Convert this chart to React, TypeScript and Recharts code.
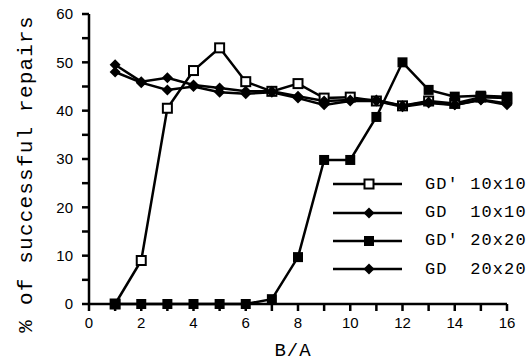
import { Line, LineChart, XAxis, YAxis } from 'recharts';

const ratios = [1, 2, 3, 4, 5, 6, 7, 8, 9, 10, 11, 12, 13, 14, 15, 16];
const gdPrime10 = [0, 9, 40.5, 48.3, 53, 46, 44, 45.6, 42.6, 42.8, 42, 41, 42, 41.5, 42.8, 42.6];
const gd10 = [49.5, 46, 46.8, 45.3, 44.7, 44, 44, 43, 42, 42.2, 42.2, 41, 41.8, 41.2, 42.3, 41.5];
const gdPrime20 = [0, 0, 0, 0, 0, 0, 1, 9.7, 29.8, 29.8, 38.7, 50, 44.3, 42.9, 43.1, 42.9];
const gd20 = [48, 45.8, 44.3, 45, 43.8, 43.5, 43.8, 42.6, 41.2, 42, 42, 40.8, 41.6, 41.2, 42.2, 41.2];

const xTicks = [0, 1, 2, 3, 4, 5, 6, 7, 8, 9, 10, 11, 12, 13, 14, 15, 16];
const yTicks = [0, 5, 10, 15, 20, 25, 30, 35, 40, 45, 50, 55, 60];

const series = [
  { key: 'gdp10', name: "GD' 10x10", shape: 'open' },
  { key: 'gd10', name: 'GD  10x10', shape: 'diamond' },
  { key: 'gdp20', name: "GD' 20x20", shape: 'square' },
  { key: 'gd20', name: 'GD  20x20', shape: 'diamond' },
];

const data = ratios.map((x, i) => ({
  x,
  gdp10: gdPrime10[i],
  gd10: gd10[i],
  gdp20: gdPrime20[i],
  gd20: gd20[i],
}));

const mono = '"Liberation Mono", "DejaVu Sans Mono", monospace';
const sans = '"Liberation Sans", Arial, sans-serif';

function Marker({ cx, cy, shape }: { cx: number; cy: number; shape: string }) {
  if (cx == null || cy == null) return null;
  if (shape === 'open')
    return <rect x={cx - 4.5} y={cy - 4.5} width={9} height={9} fill="#fff" stroke="#000" strokeWidth={2} />;
  if (shape === 'square')
    return <rect x={cx - 5} y={cy - 5} width={10} height={10} fill="#000" />;
  return (
    <polygon
      points={`${cx},${cy - 5.5} ${cx + 5.5},${cy} ${cx},${cy + 5.5} ${cx - 5.5},${cy}`}
      fill="#000"
    />
  );
}

function LegendBox() {
  return (
    <div style={{ position: 'absolute', left: 333, top: 170, width: 200 }}>
      {series.map((s) => (
        <div key={s.key} style={{ display: 'flex', alignItems: 'center', height: 28.4 }}>
          <svg width={92} height={16} style={{ flex: 'none' }}>
            <line x1={0} y1={8} x2={69} y2={8} stroke="#000" strokeWidth={2.5} />
            <Marker cx={36} cy={8} shape={s.shape} />
          </svg>
          <span style={{ fontFamily: mono, fontSize: 17, letterSpacing: 1.1, whiteSpace: 'pre', color: '#000' }}>
            {s.name}
          </span>
        </div>
      ))}
    </div>
  );
}

export default function App() {
  return (
    <div style={{ position: 'absolute', left: 0, top: 0, width: 531, height: 363, background: '#fff' }}>
      <LineChart width={531} height={363} data={data} margin={{ top: 14, right: 24, bottom: 0, left: 0 }}>
        <XAxis
          dataKey="x"
          type="number"
          domain={[0, 16]}
          ticks={xTicks}
          interval={0}
          tickFormatter={(v) => (v % 2 === 0 ? String(v) : '')}
          height={59}
          stroke="#000"
          strokeWidth={2.5}
          tickSize={7}
          tickMargin={6}
          tick={{ fontSize: 15, fill: '#000', fontFamily: sans }}
          label={{
            content: () => (
              <text x={293} y={351} textAnchor="middle" dominantBaseline="central" fontFamily={mono} fontSize={19} letterSpacing={1} fill="#000">
                B/A
              </text>
            ),
          }}
        />
        <YAxis
          type="number"
          domain={[0, 60]}
          ticks={yTicks}
          interval={0}
          tickFormatter={(v) => (v % 10 === 0 ? String(v) : '')}
          width={89}
          stroke="#000"
          strokeWidth={2.5}
          tickSize={7}
          tickMargin={9}
          tick={{ fontSize: 15, fill: '#000', fontFamily: sans }}
          label={{
            content: () => (
              <text
                x={26}
                y={174}
                transform="rotate(-90 26 174)"
                textAnchor="middle"
                dominantBaseline="central"
                fontFamily={mono}
                fontSize={21}
                letterSpacing={1.2}
                fill="#000"
              >
                % of successful repairs
              </text>
            ),
          }}
        />
        {series.map((s) => (
          <Line
            key={s.key}
            dataKey={s.key}
            name={s.name}
            type="linear"
            stroke="#000"
            strokeWidth={2.5}
            dot={(p: any) => <Marker key={`${s.key}-${p.index}`} cx={p.cx} cy={p.cy} shape={s.shape} />}
            activeDot={false}
            isAnimationActive={false}
          />
        ))}
      </LineChart>
      <LegendBox />
    </div>
  );
}
